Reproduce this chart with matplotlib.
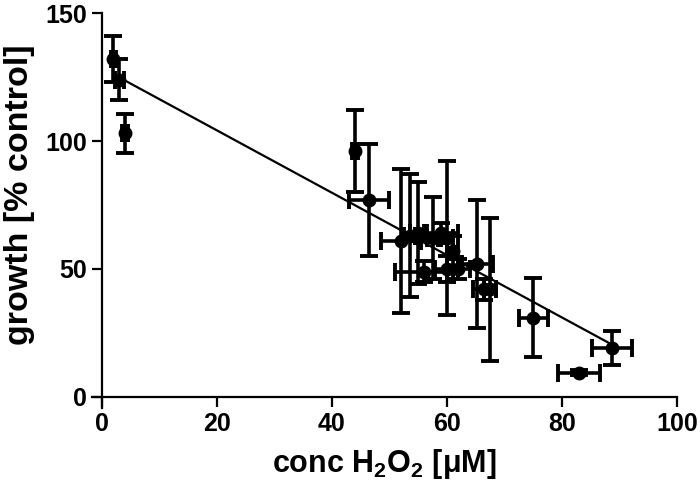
import numpy as np
import matplotlib
matplotlib.use('Agg')
from matplotlib import pyplot as plt

plt.rcParams['font.family'] = ['Liberation Sans', 'DejaVu Sans']
plt.rcParams['font.weight'] = 'bold'
plt.rcParams['mathtext.fontset'] = 'custom'
plt.rcParams['mathtext.bf'] = 'Liberation Sans:bold'
plt.rcParams['mathtext.rm'] = 'Liberation Sans:bold'
plt.rcParams['mathtext.default'] = 'bf'

# data: conc H2O2 (uM), growth (% control), SEMs
conc = [2.0, 3.0, 4.0, 44.0, 46.5, 52.0, 53.5, 55.0, 57.5, 56.0, 60.0, 62.0,
        59.0, 60.0, 61.0, 65.3, 66.5, 67.5, 75.0, 83.0, 88.7]
growth = [132, 124, 103, 96, 77, 61, 63, 64, 62, 49, 50, 50,
          64, 62, 57, 52, 42, 42, 31, 9.5, 19]
conc_err = [0.5, 0.8, 0.5, 0.5, 3.5, 3.5, 1.0, 1.5, 1.0, 5.0, 2.0, 2.0,
            3.0, 1.0, 1.0, 2.7, 2.0, 1.0, 2.5, 3.7, 3.5]
growth_err = [9, 8, 7.5, 16, 22, 28, 24, 20, 16, 4, 5, 4,
              4, 30, 6, 25, 4, 28, 15.5, 1, 6.6]

# linear fit as drawn in the figure
fit_intercept = 128.5
fit_slope = -1.218
fit_x = [min(conc), max(conc)]

fig = plt.figure(figsize=(7, 4.93), dpi=100)
ax = fig.add_axes([0.1317, 0.1714, 0.8354, 0.8022])

ax.errorbar(conc, growth, xerr=conc_err, yerr=growth_err, fmt='o', c='k',
            ms=9, elinewidth=2.6, capsize=6.5, capthick=2.8, zorder=3)
fx = np.array(fit_x)
ax.plot(fx, fit_intercept + fit_slope * fx, c='k', lw=1.6, zorder=4)

ax.set_xlim(-1.7, 100)
ax.set_ylim(-4.5, 150)
ax.set_xticks([0, 20, 40, 60, 80, 100])
ax.set_yticks([0, 50, 100, 150])

for s in ['top', 'right']:
    ax.spines[s].set_visible(False)
ax.spines['left'].set_position(('data', 0))
ax.spines['bottom'].set_position(('data', 0))
for s in ['left', 'bottom']:
    ax.spines[s].set_linewidth(1.6)

ax.tick_params(direction='out', length=7, width=1.6, labelsize=18, pad=4)

ax.set_xlabel(r'conc H$_2$O$_2$ [μM]', fontsize=22, fontweight='bold', labelpad=8)
ax.set_ylabel('growth [% control]', fontsize=24.5, fontweight='bold')
ax.yaxis.set_label_coords(-0.098, 0.54)

plt.savefig('out.png', dpi=100)
